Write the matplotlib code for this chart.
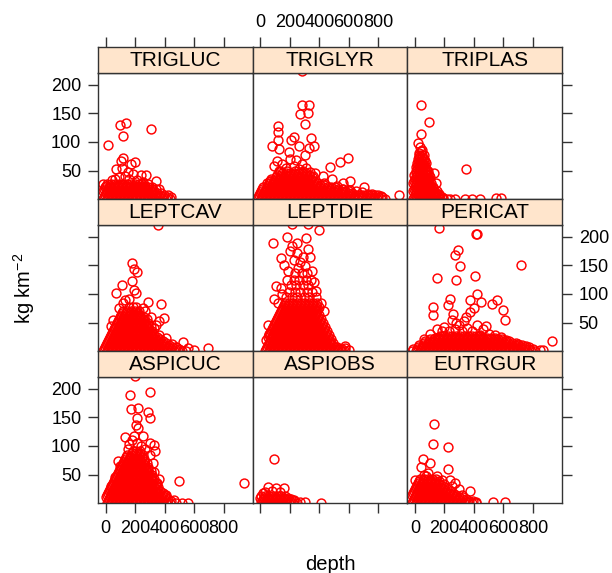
import matplotlib
matplotlib.use('Agg')
import matplotlib.pyplot as plt

plt.rcParams['font.family'] = ['Liberation Sans', 'DejaVu Sans']
plt.rcParams['mathtext.fontset'] = 'custom'
plt.rcParams['mathtext.rm'] = 'Liberation Sans'
plt.rcParams['mathtext.it'] = 'Liberation Sans:italic'

# ---------------- data ----------------
species = ['TRIGLUC', 'TRIGLYR', 'TRIPLAS',
           'LEPTCAV', 'LEPTDIE', 'PERICAT',
           'ASPICUC', 'ASPIOBS', 'EUTRGUR']
x_ticks = [0, 200, 400, 600, 800]
y_ticks = [50, 100, 150, 200]
x_label = 'depth'
y_label = 'kg km$^{-2}$'

# dense parts: (kg value, [depths])  ; sparse parts: (depth, kg)
trigluc_dense = [
    (1, [-20, 7, 34, 61, 88, 115, 142, 169, 196, 223, 250, 277, 304, 331, 358, 385, 412, 439]),
    (4, [-13, 14, 41, 68, 95, 122, 149, 176, 203, 230, 257, 284, 311, 338, 365, 392, 419, 446]),
    (7, [-7, 20, 47, 74, 101, 128, 155, 182, 209, 236, 263, 290, 317, 344, 371, 398]),
    (11, [0, 27, 54, 81, 108, 135, 162, 189, 216, 243, 270, 297, 324, 351, 378]),
    (14, [-20, 7, 34, 61, 88, 115, 142, 169, 196, 223, 250, 277, 304, 331]),
    (18, [-13, 14, 41, 68, 95, 122, 149, 176, 203, 230, 257, 284, 311, 338]),
    (21, [-7, 20, 47, 74, 101, 128, 155, 182, 209, 236, 263, 290]),
    (24, [0, 27, 54, 81, 108, 135, 162, 189, 216, 243, 270]),
    (27, [-20, 7, 34, 61, 88, 115, 142, 169, 196, 223, 245]),
]
trigluc_sparse = [(16, 95), (95, 129), (138, 133), (120, 110), (307, 122), (120, 72), (104, 67),
                  (198, 65), (170, 61), (72, 52), (188, 44), (238, 43), (273, 42), (341, 32), (60, 36),
                  (90, 38), (130, 40), (160, 35), (215, 34), (255, 30), (290, 27), (150, 48), (110, 55),
                  (40, 33), (315, 22), (360, 18), (420, 8)]

triglyr_dense = [
    (1, [-20, 7, 34, 61, 88, 115, 142, 169, 196, 223, 250, 277, 304, 331, 358, 385, 412, 439, 466, 493,
         520, 547, 574, 601, 628, 655, 682, 709, 736, 763, 790, 817, 844]),
    (4, [-13, 14, 41, 68, 95, 122, 149, 176, 203, 230, 257, 284, 311, 338, 365, 392, 419, 446, 473, 500,
         527, 554, 581, 608, 635, 662, 689, 716, 743, 770, 797, 824]),
    (7, [-7, 20, 47, 74, 101, 128, 155, 182, 209, 236, 263, 290, 317, 344, 371, 398, 425, 452, 479, 506,
         533, 560, 587, 614, 641, 668, 695, 722, 749, 776, 800]),
    (11, [0, 27, 54, 81, 108, 135, 162, 189, 216, 243, 270, 297, 324, 351, 378, 405, 432, 459, 486, 513,
          540, 567, 594, 621]),
    (14, [7, 34, 61, 88, 115, 142, 169, 196, 223, 250, 277, 304, 331, 358, 385, 412, 439, 466, 493, 520,
          547, 574, 601]),
    (18, [14, 41, 68, 95, 122, 149, 176, 203, 230, 257, 284, 311, 338, 365, 392, 419, 446, 473, 500, 527,
          554]),
    (21, [20, 47, 74, 101, 128, 155, 182, 209, 236, 263, 290, 317, 344, 371, 398, 425, 452, 479, 506]),
    (25, [54, 81, 108, 135, 162, 189, 216, 243, 270, 297, 324, 351, 378, 405, 432]),
    (28, [61, 88, 115, 142, 169, 196, 223, 250, 277, 304, 331, 358, 385]),
    (32, [68, 95, 122, 149, 176, 203, 230, 257, 284, 311, 338, 365]),
    (35, [74, 101, 128, 155, 182, 209, 236, 263, 290, 317, 344]),
    (39, [108, 135, 162, 189, 216, 243, 270, 297, 324, 351]),
    (42, [115, 142, 169, 196, 223, 250, 277, 304, 331]),
    (45, [149, 176, 203, 230, 257, 284, 311]),
    (49, [128, 182, 236, 290]),
]
triglyr_sparse = [(282, 223), (281, 164), (327, 165), (270, 148), (322, 150), (300, 132), (118, 128),
                  (122, 117), (122, 104), (77, 93), (207, 104), (225, 109), (343, 106), (129, 87),
                  (193, 82), (259, 93), (327, 90), (361, 93), (304, 78), (241, 69), (543, 65), (593, 72),
                  (474, 56), (372, 46), (423, 41), (486, 36), (561, 29), (611, 32), (608, 17), (65, 32),
                  (43, 29), (943, 7), (732, 10), (751, 3), (700, 22), (650, 15), (760, 10), (90, 58),
                  (110, 66), (150, 62), (175, 55), (200, 70), (230, 58), (260, 52), (285, 62), (310, 55),
                  (340, 48), (360, 40), (130, 50), (660, 8), (690, 12), (820, 5), (430, 28), (520, 24),
                  (560, 18)]

triplas_dense = [
    (1, [-10, 10, 30, 50, 70, 90, 110, 130, 150, 170, 190, 215, 240]),
    (4, [-5, 15, 35, 55, 75, 95, 115, 135, 155, 180]),
    (7, [0, 20, 40, 60, 80, 100, 120, 140, 160]),
    (11, [5, 25, 45, 65, 85, 105, 125, 140]),
    (14, [-10, 10, 30, 50, 70, 90, 110, 130, 148]),
    (18, [-5, 15, 35, 55, 75, 95, 115]),
    (21, [0, 20, 40, 60, 80, 100, 120]),
    (25, [5, 25, 45, 65, 85, 105]),
    (28, [-10, 10, 30, 50, 70, 90, 110]),
    (32, [-5, 15, 35, 55, 75, 95]),
    (35, [0, 20, 40, 60, 80, 98]),
    (39, [5, 25, 45, 65, 85]),
    (42, [-5, 15, 35, 55, 75, 92]),
    (46, [10, 30, 50, 70]),
    (49, [5, 25, 45, 65, 82]),
    (53, [15, 35, 55, 75]),
    (56, [10, 30, 50, 70]),
    (60, [20, 40, 60]),
    (63, [15, 35, 55, 72]),
    (67, [25, 45, 65]),
    (70, [22, 42, 62]),
    (74, [30, 50]),
    (77, [30, 50]),
    (84, [38]),
]
triplas_sparse = [(41, 164), (97, 135), (41, 114), (22, 99), (34, 92), (48, 86), (28, 80), (60, 78),
                  (131, 45), (141, 29), (345, 52), (190, 3), (272, 1), (340, 1), (386, 1), (443, 1),
                  (548, 2), (582, 2), (165, 10), (120, 20), (100, 38), (85, 50)]

leptcav_dense = [
    (1, [-20, 7, 34, 61, 88, 115, 142, 169, 196, 223, 250, 277, 304, 331, 358, 385, 412, 439, 466, 493,
         520, 547]),
    (4, [-13, 14, 41, 68, 95, 122, 149, 176, 203, 230, 257, 284, 311, 338, 365, 392, 419, 446, 473, 500]),
    (7, [-7, 20, 47, 74, 101, 128, 155, 182, 209, 236, 263, 290, 317, 344, 371, 398, 425, 452, 479]),
    (11, [0, 27, 54, 81, 108, 135, 162, 189, 216, 243, 270, 297, 324, 351, 378, 405, 432]),
    (14, [7, 34, 61, 88, 115, 142, 169, 196, 223, 250, 277, 304, 331, 358, 385, 412]),
    (18, [14, 41, 68, 95, 122, 149, 176, 203, 230, 257, 284, 311, 338, 365, 392]),
    (21, [20, 47, 74, 101, 128, 155, 182, 209, 236, 263, 290, 317, 344, 371]),
    (25, [27, 54, 81, 108, 135, 162, 189, 216, 243, 270, 297, 324, 351]),
    (28, [34, 61, 88, 115, 142, 169, 196, 223, 250, 277, 304, 331]),
    (32, [41, 68, 95, 122, 149, 176, 203, 230, 257, 284, 311]),
    (35, [47, 74, 101, 128, 155, 182, 209, 236, 263, 290, 317]),
    (39, [54, 81, 108, 135, 162, 189, 216, 243, 270, 297]),
    (42, [61, 88, 115, 142, 169, 196, 223, 250, 277, 304]),
    (46, [68, 95, 122, 149, 176, 203, 230, 257, 284]),
    (49, [74, 101, 128, 155, 182, 209, 236, 263, 290]),
    (53, [81, 108, 135, 162, 189, 216, 243, 270]),
    (56, [88, 115, 142, 169, 196, 223, 250, 277]),
    (60, [95, 122, 149, 176, 203, 230, 257]),
    (63, [101, 128, 155, 182, 209, 236]),
    (67, [108, 135, 162, 189, 216]),
    (70, [115, 142, 169, 196, 223]),
    (77, [155, 182, 209]),
]
leptcav_sparse = [(352, 221), (181, 154), (193, 143), (215, 139), (177, 123), (109, 115), (68, 101),
                  (193, 106), (204, 101), (284, 86), (375, 82), (307, 59), (363, 52), (397, 58),
                  (341, 46), (363, 29), (409, 23), (522, 16), (693, 5), (34, 44), (130, 90), (160, 92),
                  (250, 75), (120, 84), (90, 75), (50, 55), (270, 70), (330, 40), (450, 12), (480, 8),
                  (600, 3), (560, 6)]

leptdie_dense = [
    (1, [34, 61, 88, 115, 142, 169, 196, 223, 250, 277, 304, 331, 358, 385, 412, 439, 466, 493, 520,
         547, 574]),
    (4, [41, 68, 95, 122, 149, 176, 203, 230, 257, 284, 311, 338, 365, 392, 419, 446, 473, 500, 527, 554]),
    (7, [47, 74, 101, 128, 155, 182, 209, 236, 263, 290, 317, 344, 371, 398, 425, 452, 479, 506]),
    (11, [54, 81, 108, 135, 162, 189, 216, 243, 270, 297, 324, 351, 378, 405, 432, 459, 486]),
    (14, [61, 88, 115, 142, 169, 196, 223, 250, 277, 304, 331, 358, 385, 412, 439, 466, 493]),
    (18, [68, 95, 122, 149, 176, 203, 230, 257, 284, 311, 338, 365, 392, 419, 446, 473]),
    (21, [74, 101, 128, 155, 182, 209, 236, 263, 290, 317, 344, 371, 398, 425, 452, 479]),
    (25, [54, 81, 108, 135, 162, 189, 216, 243, 270, 297, 324, 351, 378, 405, 432, 459]),
    (28, [61, 88, 115, 142, 169, 196, 223, 250, 277, 304, 331, 358, 385, 412, 439, 466]),
    (32, [68, 95, 122, 149, 176, 203, 230, 257, 284, 311, 338, 365, 392, 419, 446]),
    (35, [74, 101, 128, 155, 182, 209, 236, 263, 290, 317, 344, 371, 398, 425, 452]),
    (39, [81, 108, 135, 162, 189, 216, 243, 270, 297, 324, 351, 378, 405, 432]),
    (42, [88, 115, 142, 169, 196, 223, 250, 277, 304, 331, 358, 385, 412, 439]),
    (46, [95, 122, 149, 176, 203, 230, 257, 284, 311, 338, 365, 392, 419]),
    (49, [101, 128, 155, 182, 209, 236, 263, 290, 317, 344, 371, 398, 425]),
    (53, [108, 135, 162, 189, 216, 243, 270, 297, 324, 351, 378, 405]),
    (56, [115, 142, 169, 196, 223, 250, 277, 304, 331, 358, 385, 412]),
    (60, [122, 149, 176, 203, 230, 257, 284, 311, 338, 365, 392]),
    (63, [128, 155, 182, 209, 236, 263, 290, 317, 344, 371, 398]),
    (67, [135, 162, 189, 216, 243, 270, 297, 324, 351, 378]),
    (70, [142, 169, 196, 223, 250, 277, 304, 331, 358, 385]),
    (74, [149, 176, 203, 230, 257, 284, 311, 338, 365, 392]),
    (77, [155, 182, 209, 236, 263, 290, 317, 344, 371, 398]),
    (81, [162, 189, 216, 243, 270, 297, 324, 351, 378]),
    (84, [169, 196, 223, 250, 277, 304, 331, 358, 385]),
    (95, [172, 218, 251, 298, 331, 377]),
    (104, [193, 238, 272, 318, 352]),
    (116, [207, 243, 288, 322]),
    (124, [228, 262, 308, 343]),
    (136, [238, 283, 318]),
]
leptdie_sparse = [(213, 222), (320, 222), (395, 212), (84, 188), (184, 200), (247, 188), (311, 198),
                  (213, 184), (202, 175), (247, 172), (320, 179), (338, 165), (140, 162), (106, 114),
                  (93, 92), (55, 46), (474, 15), (577, 10), (571, 5), (160, 150), (270, 155), (300, 148),
                  (230, 160), (350, 140), (190, 140), (140, 110), (120, 85), (60, 30), (40, 20), (600, 2),
                  (540, 4), (520, 8), (430, 70), (410, 85), (365, 120), (180, 125), (290, 165),
                  (255, 145), (150, 100), (380, 105)]

pericat_dense = [
    (1, [-20, 7, 34, 61, 88, 115, 142, 169, 196, 223, 250, 277, 304, 331, 358, 385, 412, 439, 466, 493,
         520, 547, 574, 601, 628, 655, 682, 709, 736, 763, 790, 817]),
    (4, [-13, 14, 41, 68, 95, 122, 149, 176, 203, 230, 257, 284, 311, 338, 365, 392, 419, 446, 473, 500,
         527, 554, 581, 608, 635, 662, 689, 716, 743, 770, 797]),
    (7, [20, 47, 74, 101, 128, 155, 182, 209, 236, 263, 290, 317, 344, 371, 398, 425, 452, 479, 506, 533,
         560, 587, 614, 641, 668, 695, 722, 749, 776]),
    (11, [27, 54, 81, 108, 135, 162, 189, 216, 243, 270, 297, 324, 351, 378, 405, 432, 459, 486, 513, 540,
          567, 594, 621, 648, 675, 702, 729]),
    (14, [61, 88, 115, 142, 169, 196, 223, 250, 277, 304, 331, 358, 385, 412, 439, 466, 493, 520, 547,
          574, 601, 628, 655, 682]),
    (18, [68, 95, 122, 149, 176, 203, 230, 257, 284, 311, 338, 365, 392, 419, 446, 473, 500, 527, 554,
          581, 608, 635]),
    (21, [101, 128, 155, 182, 209, 236, 263, 290, 317, 344, 371, 398, 425, 452, 479, 506, 533, 560, 587]),
    (24, [135, 162, 189, 216, 243, 270, 297, 324, 351, 378, 405, 432, 459, 486, 513, 540]),
    (27, [169, 196, 223, 250, 277, 304, 331, 358, 385, 412, 439]),
]
pericat_sparse = [(164, 215), (416, 204), (420, 205), (290, 177), (273, 167), (307, 148), (147, 128),
                  (277, 124), (409, 132), (420, 100), (375, 90), (239, 92), (227, 80), (125, 78),
                  (125, 63), (718, 150), (930, 18), (598, 72), (559, 89), (519, 82), (609, 54), (479, 44),
                  (370, 69), (397, 75), (445, 86), (250, 55), (280, 50), (300, 45), (330, 52), (350, 40),
                  (200, 42), (180, 35), (150, 38), (390, 35), (420, 45), (460, 38), (500, 30), (540, 28),
                  (580, 25), (620, 20), (700, 12), (750, 10), (850, 3), (870, 2), (100, 30), (60, 22),
                  (230, 35), (320, 35), (270, 38), (440, 28), (260, 65), (345, 60)]

aspicuc_dense = [
    (1, [7, 34, 61, 88, 115, 142, 169, 196, 223, 250, 277, 304, 331, 358, 385, 412, 439]),
    (4, [14, 41, 68, 95, 122, 149, 176, 203, 230, 257, 284, 311, 338, 365, 392, 419, 446]),
    (7, [20, 47, 74, 101, 128, 155, 182, 209, 236, 263, 290, 317, 344, 371, 398, 425]),
    (11, [0, 27, 54, 81, 108, 135, 162, 189, 216, 243, 270, 297, 324, 351, 378, 405]),
    (14, [7, 34, 61, 88, 115, 142, 169, 196, 223, 250, 277, 304, 331, 358, 385, 412]),
    (18, [14, 41, 68, 95, 122, 149, 176, 203, 230, 257, 284, 311, 338, 365, 392]),
    (21, [20, 47, 74, 101, 128, 155, 182, 209, 236, 263, 290, 317, 344, 371]),
    (25, [27, 54, 81, 108, 135, 162, 189, 216, 243, 270, 297, 324, 351]),
    (28, [34, 61, 88, 115, 142, 169, 196, 223, 250, 277, 304, 331, 358]),
    (32, [41, 68, 95, 122, 149, 176, 203, 230, 257, 284, 311, 338]),
    (35, [47, 74, 101, 128, 155, 182, 209, 236, 263, 290, 317, 344]),
    (39, [54, 81, 108, 135, 162, 189, 216, 243, 270, 297, 324]),
    (42, [61, 88, 115, 142, 169, 196, 223, 250, 277, 304, 331]),
    (46, [68, 95, 122, 149, 176, 203, 230, 257, 284, 311]),
    (49, [74, 101, 128, 155, 182, 209, 236, 263, 290, 317]),
    (53, [81, 108, 135, 162, 189, 216, 243, 270, 297]),
    (56, [88, 115, 142, 169, 196, 223, 250, 277, 304]),
    (60, [95, 122, 149, 176, 203, 230, 257, 284]),
    (63, [101, 128, 155, 182, 209, 236, 263, 290]),
    (67, [108, 135, 162, 189, 216, 243, 270]),
    (70, [115, 142, 169, 196, 223, 250, 277]),
    (74, [122, 149, 176, 203, 230, 257]),
    (77, [128, 155, 182, 209, 236, 263]),
    (81, [135, 162, 189, 216, 243]),
    (84, [142, 169, 196, 223, 250]),
    (88, [176, 203, 230]),
    (91, [182, 209, 236]),
]
aspicuc_sparse = [(198, 222), (166, 188), (302, 194), (170, 164), (222, 166), (284, 160), (300, 148),
                  (215, 149), (204, 136), (219, 131), (130, 116), (193, 118), (256, 117), (159, 103),
                  (334, 91), (329, 102), (86, 74), (500, 38), (363, 42), (480, 1), (520, 1), (560, 1),
                  (936, 35), (34, 30), (60, 45), (100, 65), (240, 100), (270, 95), (300, 85), (320, 70),
                  (150, 95), (210, 105), (180, 110), (330, 55), (350, 35), (400, 15), (460, 5), (300, 105)]

aspiobs_dense = [
    (1, [7, 34, 61, 88, 115, 142, 169, 196, 223, 250]),
    (4, [14, 41, 68, 95, 122, 149, 176, 203, 230]),
    (7, [20, 47, 74, 101, 128, 155, 182, 209]),
    (10, [0, 27, 54, 81, 108, 135, 162, 189]),
    (13, [7, 34, 61, 88, 115, 142, 169]),
]
aspiobs_sparse = [(93, 77), (54, 28), (106, 26), (161, 26), (34, 20), (80, 22), (130, 20), (304, 3),
                  (411, 1), (230, 5), (270, 3), (20, 18)]

eutrgur_dense = [
    (1, [-20, 7, 34, 61, 88, 115, 142, 169, 196, 223, 250, 277, 304, 331, 358, 385, 412]),
    (4, [-13, 14, 41, 68, 95, 122, 149, 176, 203, 230, 257, 284, 311, 338, 365, 392]),
    (7, [-7, 20, 47, 74, 101, 128, 155, 182, 209, 236, 263, 290, 317, 344]),
    (11, [0, 27, 54, 81, 108, 135, 162, 189, 216, 243, 270, 297, 324]),
    (14, [-20, 7, 34, 61, 88, 115, 142, 169, 196, 223, 250, 277]),
    (18, [-13, 14, 41, 68, 95, 122, 149, 176, 203, 230, 257]),
    (21, [-7, 20, 47, 74, 101, 128, 155, 182, 209, 236]),
    (25, [0, 27, 54, 81, 108, 135, 162, 189, 216]),
    (28, [7, 34, 61, 88, 115, 142, 169, 196]),
    (32, [14, 41, 68, 95, 122, 149, 176]),
    (35, [20, 47, 74, 101, 128, 155]),
    (39, [27, 54, 81, 108, 135, 162]),
    (42, [34, 61, 88, 115, 142]),
]
eutrgur_sparse = [(130, 138), (125, 103), (222, 99), (52, 77), (41, 64), (102, 71), (222, 59), (273, 36),
                  (370, 22), (411, 2), (532, 2), (612, 2), (357, 3), (60, 50), (90, 52), (150, 48),
                  (180, 40), (250, 30), (300, 25), (240, 40), (320, 15), (0, 40), (75, 47), (200, 33)]

panel_data = [
    (trigluc_dense, trigluc_sparse), (triglyr_dense, triglyr_sparse), (triplas_dense, triplas_sparse),
    (leptcav_dense, leptcav_sparse), (leptdie_dense, leptdie_sparse), (pericat_dense, pericat_sparse),
    (aspicuc_dense, aspicuc_sparse), (aspiobs_dense, aspiobs_sparse), (eutrgur_dense, eutrgur_sparse),
]


def collect(dense, sparse):
    xs, ys = [], []
    for v, ds in dense:
        for d in ds:
            xs.append(d)
            ys.append(v)
    for d, v in sparse:
        xs.append(d)
        ys.append(v)
    return xs, ys


# ---------------- layout ----------------
W, H = 612, 573
fig = plt.figure(figsize=(W / 100, H / 100), dpi=100)
fig.patch.set_facecolor('white')

xlim = (-52, 997)
ylim = (0, 220.5)
col_edges = [98, 252.7, 407.3, 562]
top0 = 47.3
strip_h = 25.5
panel_h = 126.5
frame_col = '#333333'
tick_fs = 13
tlen = 7
tpad = 5

for i, sp in enumerate(species):
    r, c = divmod(i, 3)
    x0, x1 = col_edges[c], col_edges[c + 1]
    st = top0 + r * (strip_h + panel_h)
    pt = st + strip_h
    pb = pt + panel_h

    ax = fig.add_axes([x0 / W, 1 - pb / H, (x1 - x0) / W, panel_h / H])
    sax = fig.add_axes([x0 / W, 1 - pt / H, (x1 - x0) / W, strip_h / H])

    xs, ys = collect(*panel_data[i])
    ax.plot(xs, ys, linestyle='none', marker='o', ms=6.4, mfc='none',
            mec='#FF0000', mew=1.05)
    ax.set_xlim(xlim)
    ax.set_ylim(ylim)
    ax.set_xticks(x_ticks)
    ax.set_yticks(y_ticks)
    ax.tick_params(axis='both', direction='out', length=tlen, width=1.0,
                   color=frame_col, labelsize=tick_fs, pad=tpad,
                   left=(c == 0), labelleft=(c == 0 and r != 1),
                   right=(c == 2), labelright=(c == 2 and r == 1),
                   bottom=(r == 2), labelbottom=(r == 2 and c != 1),
                   top=False, labeltop=False)
    for s in ax.spines.values():
        s.set_color(frame_col)
        s.set_linewidth(1.0)

    sax.set_facecolor('#FFE5CC')
    sax.set_xlim(xlim)
    sax.set_ylim(0, 1)
    sax.set_yticks([])
    sax.set_xticks(x_ticks)
    sax.tick_params(axis='x', direction='out', length=tlen, width=1.0,
                    color=frame_col, labelsize=tick_fs, pad=tpad,
                    bottom=False, labelbottom=False,
                    top=(r == 0), labeltop=(r == 0 and c == 1))
    for s in sax.spines.values():
        s.set_color(frame_col)
        s.set_linewidth(1.0)
    sax.text(0.5, 0.47, sp, transform=sax.transAxes, ha='center', va='center',
             fontsize=15)

fig.text(24.5 / W, 1 - 288 / H, y_label, rotation=90, ha='center', va='center',
         fontsize=14.5)
fig.text(330 / W, 1 - 570 / H, x_label, ha='center', va='baseline', fontsize=14.5)

fig.savefig('out.png', dpi=100)
